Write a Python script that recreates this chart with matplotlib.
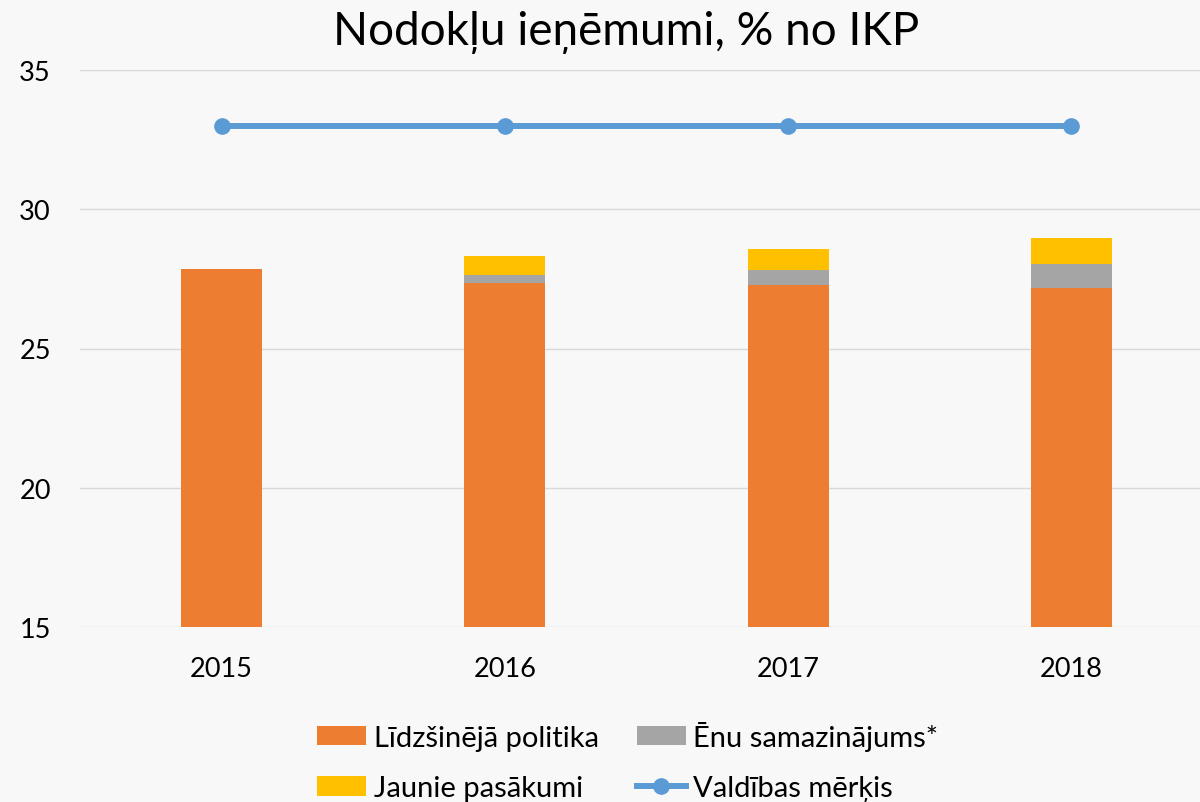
import matplotlib
matplotlib.use("Agg")
import matplotlib.pyplot as plt
import numpy as np

years = ["2015", "2016", "2017", "2018"]
previous_policy = [27.87, 27.36, 27.29, 27.18]
shadow_reduction = [0.0, 0.29, 0.54, 0.84]
new_measures = [0.0, 0.67, 0.75, 0.95]
gov_target = [33.0, 33.0, 33.0, 33.0]

labels = ["Līdzšinējā politika", "Ēnu samazinājums*",
          "Jaunie pasākumi", "Valdības mērķis"]

plt.rcParams["font.family"] = ["Lato", "DejaVu Sans"]
BG = "#f8f8f8"

fig = plt.figure(figsize=(12, 8.03), dpi=100, facecolor=BG)
ax = fig.add_axes([80 / 1200, 1 - 628 / 803, 1133 / 1200, 557 / 803])
ax.set_facecolor(BG)

x = np.arange(len(years))
w = 0.286
base = np.array(previous_policy)
b1 = ax.bar(x, previous_policy, w, color="#ed7d31", label=labels[0], zorder=3)
b2 = ax.bar(x, shadow_reduction, w, bottom=base, color="#a5a5a5",
            label=labels[1], zorder=3)
base2 = base + np.array(shadow_reduction)
b3 = ax.bar(x, new_measures, w, bottom=base2, color="#ffc000",
            label=labels[2], zorder=3)
ln, = ax.plot(x, gov_target, color="#5b9bd5", lw=4.3, marker="o",
              markersize=11, label=labels[3], zorder=4)

ax.set_xlim(-0.5, 3.5)
ax.set_ylim(15, 35)
ax.set_yticks([15, 20, 25, 30, 35])
ax.set_xticks(x)
ax.set_xticklabels(years)
ax.grid(axis="y", color="#d9d9d9", lw=1.0, zorder=0)
ax.tick_params(axis="both", length=0, labelsize=19.5, colors="black")
ax.tick_params(axis="y", pad=21)
ax.tick_params(axis="x", pad=21)
for s in ax.spines.values():
    s.set_visible(False)

fig.text(0.522, 1 - 33 / 803, "Nodokļu ieņēmumi, % no IKP", ha="center",
         va="center", fontsize=33)

# column-major fill, so order gives rows: orange/gray, yellow/line
fig.legend([b1, b3, b2, ln], [labels[0], labels[2], labels[1], labels[3]],
           ncol=2, loc="center", bbox_to_anchor=(0.523, 1 - 762 / 803),
           frameon=False, fontsize=21, handlelength=1.7, handleheight=0.65,
           handletextpad=0.25, columnspacing=1.3, labelspacing=0.85)

fig.savefig("out.png", dpi=100, facecolor=BG)
